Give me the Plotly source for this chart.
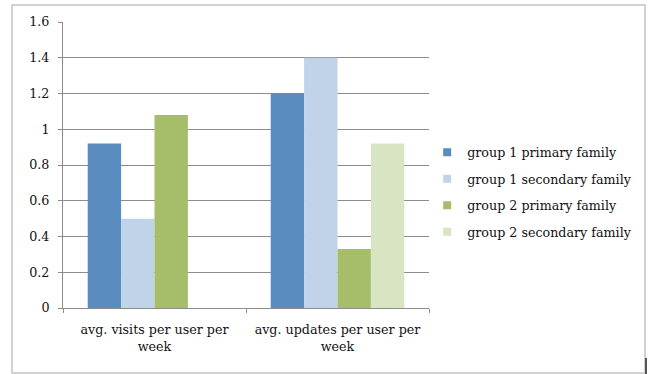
import plotly.graph_objects as go

categories = ["avg. visits per user per<br>week", "avg. updates per user per<br>week"]
series_names = [
    "group 1 primary family",
    "group 1 secondary family",
    "group 2 primary family",
    "group 2 secondary family",
]
group1_primary = [0.92, 1.2]
group1_secondary = [0.5, 1.4]
group2_primary = [1.08, 0.33]
group2_secondary = [None, 0.92]
series_values = [group1_primary, group1_secondary, group2_primary, group2_secondary]
series_colors = ["#5B8CC0", "#C0D3E8", "#A6BE6A", "#D9E4C3"]
y_ticks = [0, 0.2, 0.4, 0.6, 0.8, 1.0, 1.2, 1.4, 1.6]

FONT = "DejaVu Serif"
TEXT = "#111111"
GRID = "#8C8C8C"

fig = go.Figure()
for i, (name, vals, col) in enumerate(zip(series_names, series_values, series_colors)):
    fig.add_trace(go.Bar(
        x=categories, y=vals, name=name,
        marker=dict(color=col, line=dict(width=0)),
        showlegend=False,
    ))
    # small square swatch for the legend entry
    fig.add_trace(go.Scatter(
        x=[None], y=[None], mode="markers", name=name,
        marker=dict(symbol="square", size=8, color=col),
        legendgroup=f"g{i}", hoverinfo="skip",
    ))

fig.update_layout(
    width=649, height=374,
    margin=dict(l=63, r=220, t=22, b=66),
    paper_bgcolor="white", plot_bgcolor="white",
    barmode="group", bargap=0.27, bargroupgap=0,
    font=dict(family=FONT, size=12.7, color=TEXT),
    showlegend=True,
    legend=dict(
        x=0.995, y=0.596, xanchor="left", yanchor="top",
        font=dict(family=FONT, size=12.7, color=TEXT),
        tracegroupgap=7, itemwidth=30, bgcolor="rgba(0,0,0,0)",
    ),
    xaxis=dict(
        showgrid=False, showline=True, linecolor=GRID, linewidth=1,
        ticks="outside", tickson="boundaries", ticklen=4, tickcolor=GRID,
        ticklabelstandoff=10,
        tickfont=dict(family=FONT, size=12.7, color=TEXT),
    ),
    yaxis=dict(
        range=[0, 1.6], tickvals=y_ticks, showgrid=True, gridcolor=GRID, gridwidth=1,
        showline=True, linecolor=GRID, linewidth=1, zeroline=False,
        ticks="outside", ticklen=4, tickcolor=GRID, ticklabelstandoff=6,
        tickfont=dict(family=FONT, size=12.7, color=TEXT),
    ),
    shapes=[
        # chart frame
        dict(type="rect", xref="paper", yref="paper",
             x0=(12 - 63) / 366, x1=(645 - 63) / 366,
             y0=(308 - 373) / 286, y1=(308 - 5) / 286,
             line=dict(color="#C4C4C4", width=1.5), layer="below"),
        dict(type="line", xref="paper", yref="paper",
             x0=(646 - 63) / 366, x1=(646 - 63) / 366,
             y0=(308 - 374) / 286, y1=(308 - 358) / 286,
             line=dict(color="#555555", width=2)),
    ],
)

fig.write_html("out.html")
